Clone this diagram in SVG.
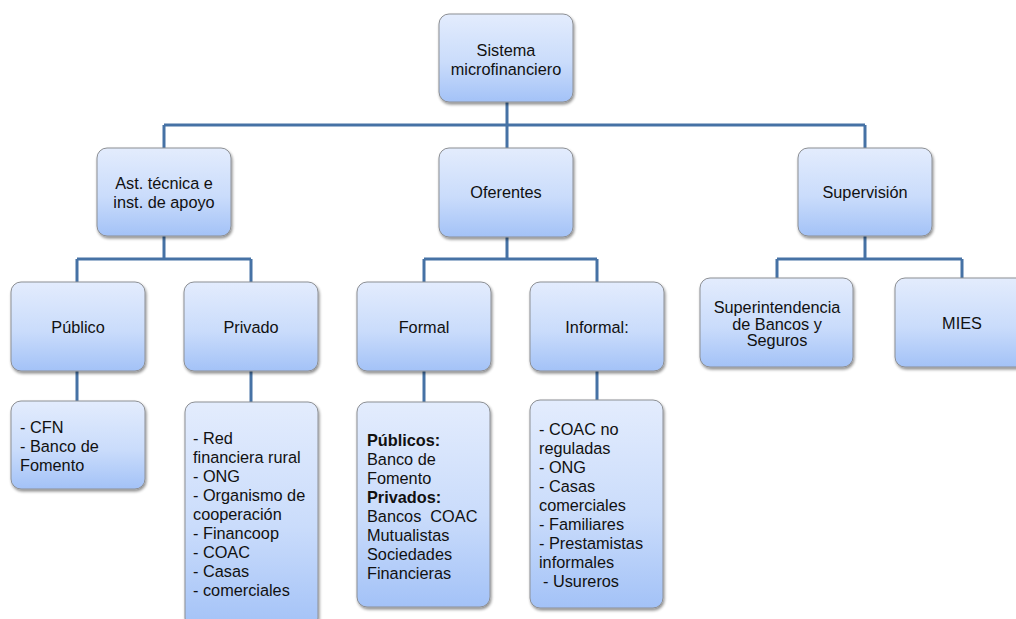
<svg xmlns="http://www.w3.org/2000/svg" width="1016" height="619" viewBox="0 0 1016 619">
<defs>
<linearGradient id="g" x1="0" y1="0" x2="0" y2="1">
<stop offset="0" stop-color="#e3ecfd"/>
<stop offset="0.55" stop-color="#cadcfb"/>
<stop offset="1" stop-color="#a3c2f7"/>
</linearGradient>
<filter id="sh" x="-10%" y="-10%" width="125%" height="125%">
<feGaussianBlur in="SourceAlpha" stdDeviation="1.6"/>
<feOffset dx="1" dy="2" result="b"/>
<feComponentTransfer><feFuncA type="linear" slope="0.45"/></feComponentTransfer>
<feMerge><feMergeNode/><feMergeNode in="SourceGraphic"/></feMerge>
</filter>
</defs>
<style>
.box{fill:url(#g);stroke:#8c8f94;stroke-width:1;filter:url(#sh)}
.t{font-family:"Liberation Sans",Arial,sans-serif;font-size:16.3px;fill:#111}
.c{text-anchor:middle}
.conn{fill:none;stroke:#4672a5;stroke-width:3}
</style>
<rect width="1016" height="619" fill="#fff"/>
<g id="connectors" class="conn">
<path d="M507 102V125M164 125H865M164 125V148M507 125V148M865 125V148"/>
<path d="M164 236V259M77 259H251M77 259V282M251 259V282"/>
<path d="M507 237V259M424 259H597M424 259V282M597 259V282"/>
<path d="M865 236V259M777 259H962M777 259V278M962 259V278"/>
<path d="M77 371V401M251 371V402M424 371V402M597 371V400"/>
</g>
<g id="n-sistema"><rect class="box" x="439" y="14" width="134" height="88" rx="10"/>
<text class="t c" x="506" y="56">Sistema</text><text class="t c" x="506" y="75">microfinanciero</text></g>
<g id="n-ast"><rect class="box" x="97" y="148" width="134" height="88" rx="10"/>
<text class="t c" x="164" y="189">Ast. técnica e</text><text class="t c" x="164" y="208">inst. de apoyo</text></g>
<g id="n-oferentes"><rect class="box" x="439" y="148" width="134" height="89" rx="10"/>
<text class="t c" x="506" y="198">Oferentes</text></g>
<g id="n-supervision"><rect class="box" x="798" y="148" width="134" height="88" rx="10"/>
<text class="t c" x="865" y="198">Supervisión</text></g>
<g id="n-publico"><rect class="box" x="11" y="282" width="134" height="89" rx="10"/>
<text class="t c" x="78" y="333">Público</text></g>
<g id="n-privado"><rect class="box" x="184" y="282" width="134" height="89" rx="10"/>
<text class="t c" x="251" y="333">Privado</text></g>
<g id="n-formal"><rect class="box" x="357" y="282" width="134" height="89" rx="10"/>
<text class="t c" x="424" y="333">Formal</text></g>
<g id="n-informal"><rect class="box" x="530" y="282" width="134" height="89" rx="10"/>
<text class="t c" x="597" y="333">Informal:</text></g>
<g id="n-super"><rect class="box" x="700" y="278" width="153" height="89" rx="10"/>
<text class="t c" x="777" y="313">Superintendencia</text><text class="t c" x="777" y="329.5">de Bancos y</text><text class="t c" x="777" y="346">Seguros</text></g>
<g id="n-mies"><rect class="box" x="895" y="278" width="134" height="89" rx="10"/>
<text class="t c" x="962" y="329">MIES</text></g>
<g id="n-publico-list"><rect class="box" x="11" y="401" width="134" height="88" rx="10"/>
<text class="t" x="20" y="433">- CFN</text><text class="t" x="20" y="452">- Banco de</text><text class="t" x="20" y="471">Fomento</text></g>
<g id="n-privado-list"><rect class="box" x="185" y="402" width="133" height="226" rx="10"/>
<text class="t" x="193" y="444">- Red</text><text class="t" x="193" y="463">financiera rural</text><text class="t" x="193" y="482">- ONG</text><text class="t" x="193" y="501">- Organismo de</text><text class="t" x="193" y="520">cooperación</text><text class="t" x="193" y="539">- Financoop</text><text class="t" x="193" y="558">- COAC</text><text class="t" x="193" y="577">- Casas</text><text class="t" x="193" y="596">- comerciales</text></g>
<g id="n-formal-list"><rect class="box" x="357" y="402" width="133" height="205" rx="10"/>
<text class="t" x="367" y="446" font-weight="bold">Públicos:</text><text class="t" x="367" y="465">Banco de</text><text class="t" x="367" y="484">Fomento</text><text class="t" x="367" y="503" font-weight="bold">Privados:</text><text class="t" x="367" y="522">Bancos&#160; COAC</text><text class="t" x="367" y="541">Mutualistas</text><text class="t" x="367" y="560">Sociedades</text><text class="t" x="367" y="579">Financieras</text></g>
<g id="n-informal-list"><rect class="box" x="530" y="400" width="133" height="208" rx="10"/>
<text class="t" x="539" y="435">- COAC no</text><text class="t" x="539" y="454">reguladas</text><text class="t" x="539" y="473">- ONG</text><text class="t" x="539" y="492">- Casas</text><text class="t" x="539" y="511">comerciales</text><text class="t" x="539" y="530">- Familiares</text><text class="t" x="539" y="549">- Prestamistas</text><text class="t" x="539" y="568">informales</text><text class="t" x="543" y="587">- Usureros</text></g>
</svg>
